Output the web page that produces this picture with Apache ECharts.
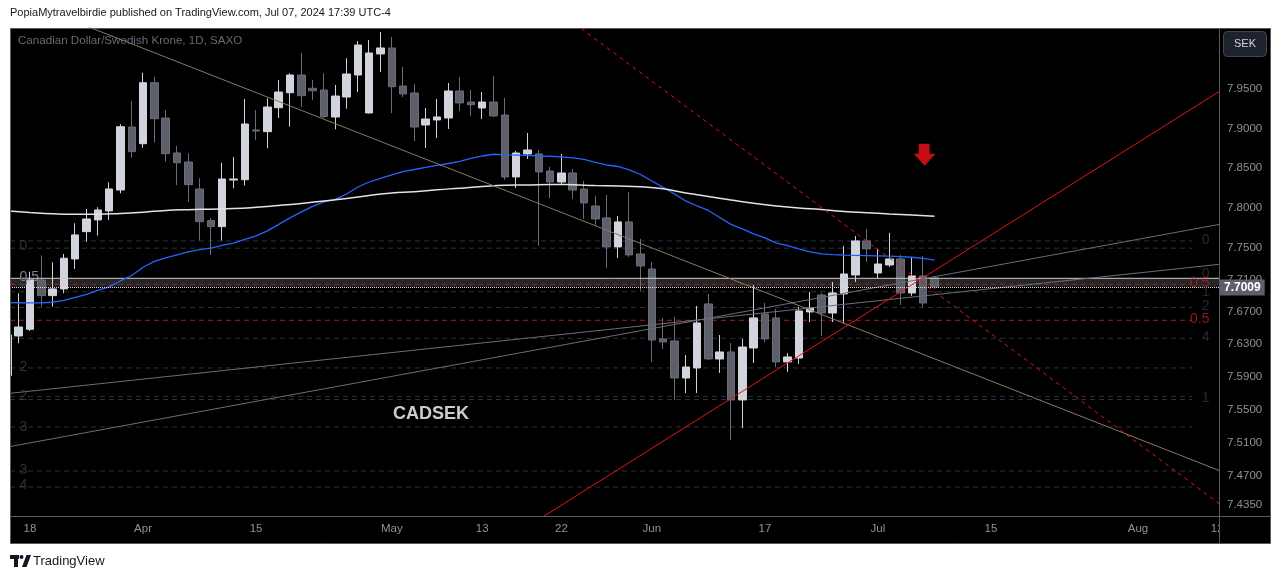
<!DOCTYPE html>
<html><head><meta charset="utf-8">
<script src="https://cdn.jsdelivr.net/npm/echarts/dist/echarts.min.js"></script>
<style>html,body{margin:0;padding:0;background:#fff}#c{width:1281px;height:579px}</style>
</head><body><div id="c"></div>
<script>
// ---- categories (daily bars, 2024) ----
const dates = ['03-14','03-15','03-18','03-19','03-20','03-21','03-22','03-25','03-26','03-27','03-28','03-29',
'04-01','04-02','04-03','04-04','04-05','04-08','04-09','04-10','04-11','04-12','04-15','04-16','04-17','04-18','04-19','04-22','04-23','04-24','04-25','04-26','04-29','04-30',
'05-01','05-02','05-03','05-06','05-07','05-08','05-09','05-10','05-13','05-14','05-15','05-16','05-17','05-20','05-21','05-22','05-23','05-24','05-27','05-28','05-29','05-30','05-31',
'06-03','06-04','06-05','06-06','06-07','06-10','06-11','06-12','06-13','06-14','06-17','06-18','06-19','06-20','06-21','06-24','06-25','06-26','06-27','06-28',
'07-01','07-02','07-03','07-04','07-05','07-08'];
// ---- OHLC ----
const open = [7.5915,7.6402,7.6484,7.7094,7.6900,7.6983,7.7356,7.7697,7.7844,7.7957,
7.8220,7.9018,7.8806,7.9584,7.9133,7.8688,7.8574,7.8233,7.7835,7.7760,
7.8346,7.8350,7.8980,7.8959,7.9264,7.9456,7.9683,7.9513,7.9491,7.9146,
7.9401,7.9683,7.9197,7.9954,8.0031,7.9542,7.9453,7.9044,7.9108,7.9133,
7.9478,7.9337,7.9261,7.9337,7.9171,7.8385,7.8676,7.8676,7.8460,7.8321,
7.8435,7.8233,7.8019,7.7869,7.7506,7.7819,7.7418,7.7231,7.6365,7.6340,
7.5886,7.6009,7.6797,7.6119,7.6205,7.5618,7.6254,7.6673,7.6624,7.6083,
7.6131,7.6698,7.6908,7.6685,7.6921,7.7156,7.7581,7.7181,7.7281,7.7356,
7.6933,7.7144,7.7119];
const close = [7.6414,7.6512,7.7094,7.6900,7.6983,7.7365,7.7656,7.7856,7.7969,7.8233,
7.9022,7.8705,7.9584,7.9124,7.8679,7.8565,7.8287,7.7822,7.7760,7.8359,
7.8359,7.9057,7.8967,7.9273,7.9465,7.9683,7.9418,7.9482,7.9150,7.9414,
7.9696,8.0069,7.9966,8.0031,7.9533,7.9440,7.9018,7.9120,7.9146,7.9478,
7.9325,7.9303,7.9337,7.9159,7.8385,7.8688,7.8726,7.8448,7.8321,7.8435,
7.8220,7.8057,7.7856,7.7506,7.7819,7.7406,7.7268,7.6352,7.6328,7.5886,
7.6021,7.6562,7.6119,7.6205,7.5618,7.6266,7.6624,7.6365,7.6083,7.6144,
7.6710,7.6747,7.6685,7.6933,7.7169,7.7581,7.7481,7.7293,7.7356,7.6933,
7.7144,7.6809,7.7009];
const low = [7.5862,7.6312,7.6463,7.6763,7.6763,7.6929,7.7231,7.7572,7.7647,7.7844,
7.8179,7.8629,7.8755,7.8819,7.8578,7.8283,7.8073,7.7585,7.7406,7.7585,
7.8242,7.8275,7.8853,7.8748,7.9133,7.9022,7.9277,7.9363,7.9129,7.8989,
7.9252,7.9465,7.9190,7.9722,7.9197,7.9401,7.8840,7.8752,7.8879,7.8993,
7.9222,7.9159,7.9120,7.9146,7.8347,7.8246,7.8612,7.7518,7.8120,7.8296,
7.8107,7.7856,7.7781,7.7243,7.7368,7.7381,7.6962,7.6086,7.6242,7.5618,
7.5703,7.5703,7.6107,7.5948,7.5133,7.5278,7.6070,7.6328,7.6021,7.5960,
7.6058,7.6574,7.6402,7.6574,7.6562,7.7069,7.7318,7.7119,7.7256,7.6784,
7.6896,7.6760,7.6983];
const high = [7.6475,7.6929,7.7197,7.7400,7.7315,7.7418,7.7802,7.7982,7.8003,7.8318,
7.9053,7.9350,7.9712,7.9661,7.9235,7.8777,7.8684,7.8368,7.7869,7.8565,
7.8638,7.9376,7.9235,7.9385,7.9619,7.9705,7.9963,7.9619,7.9705,7.9555,
7.9898,8.0121,8.0134,8.0237,8.0173,7.9786,7.9568,7.9261,7.9376,7.9581,
7.9658,7.9491,7.9465,7.9671,7.9389,7.8714,7.8942,7.8726,7.8511,7.8676,
7.8486,7.8334,7.8145,7.8157,7.7894,7.8195,7.7606,7.7318,7.6624,7.6636,
7.6168,7.6772,7.6921,7.6414,7.6316,7.6365,7.7032,7.6809,7.6735,7.6193,
7.6760,7.6946,7.6933,7.7069,7.7518,7.7643,7.7731,7.7481,7.7681,7.7406,
7.7381,7.7393,7.7144];
const lastPrice = 7.7009;
// ---- moving averages ----
const ma50 = [7.6813,7.6812,7.6809,7.6809,7.6818,7.6840,7.6877,7.6915,7.6964,7.7008,
7.7082,7.7150,7.7252,7.7325,7.7368,7.7406,7.7443,7.7472,7.7490,7.7525,
7.7552,7.7600,7.7643,7.7706,7.7788,7.7869,7.7944,7.8013,7.8070,7.8101,
7.8170,7.8258,7.8321,7.8368,7.8410,7.8452,7.8479,7.8505,7.8530,7.8555,
7.8583,7.8619,7.8650,7.8672,7.8663,7.8660,7.8657,7.8650,7.8647,7.8640,
7.8625,7.8606,7.8568,7.8536,7.8517,7.8473,7.8416,7.8334,7.8254,7.8170,
7.8082,7.8019,7.7963,7.7875,7.7788,7.7731,7.7668,7.7618,7.7556,7.7522,
7.7481,7.7443,7.7418,7.7410,7.7403,7.7401,7.7398,7.7395,7.7391,7.7385,
7.7377,7.7362,7.7340];
// read every second bar
const ma200 = [7.7957,7.7938,7.7922,7.7915,7.7915,7.7925,7.7940,7.7963,7.7973,7.7979,
7.7986,7.8003,7.8026,7.8050,7.8082,7.8113,7.8151,7.8183,7.8199,7.8223,
7.8243,7.8264,7.8280,7.8283,7.8291,7.8286,7.8277,7.8271,7.8262,7.8235,
7.8183,7.8139,7.8095,7.8053,7.8019,7.7994,7.7974,7.7950,7.7934,7.7919,
7.7906,7.7890];
// ---- axis ticks ----
const yTicks = [7.95,7.90,7.85,7.80,7.75,7.71,7.67,7.63,7.59,7.55,7.51,7.47,7.435];
const xTickBars = [2,12,22,34,42,49,57,67,77,87,100,107];
const xTickLabels = ['18','Apr','15','May','13','22','Jun','17','Jul','15','Aug','12'];
// ---- drawings: [bar, price] endpoints ----
const tanLine = [[6.42,8.0347],[108,7.4719]];
const redDashLine = [[50.2,8.0343],[108,7.4282]];
const redLine = [[46.22,7.4110],[108,7.9546]];
const grayLine1 = [[-0.654,7.5686],[108,7.7301]];
const grayLine2 = [[-0.654,7.5030],[108,7.7809]];
const fibDim = [7.7581,7.7490,7.6949,7.6753,7.6373,7.6009,7.5661,7.5624,7.5290,7.4757,7.4564];
const fibRed = [7.7041,7.6595];
const bandTop = 7.7115;
const leftLabels = ['0','0.5','0','2','2','3','3','4'];
const leftLabelPrices = [7.7510,7.7131,7.7057,7.6021,7.5667,7.5290,7.4769,7.4588];
const rightLabels = ['0','0','0.5','1','2','0.5','4','1'];
const rightLabelPrices = [7.7587,7.7163,7.7053,7.6949,7.6772,7.6608,7.6389,7.5642];
const arrowPoint = [81.13,7.8665];
const noteText = 'CADSEK';
const notePoint = [37.47,7.5442];

const X_MIN = 0.231, X_MAX = 107.165, FIB_START = 0.231, FIB_END = 104.78;
const LEFT_LABEL_BAR = 1.03, RIGHT_LABEL_BAR = 106.37;
const FONT = 'Liberation Sans';

function seg(pts, color, type, width, z) {
  return {type:'line', data:pts, symbol:'none', silent:true, z:z, clip:true,
    lineStyle:{color:color, type:type, width:width}};
}
const series = [];
series.push({type:'line', data:[[FIB_START,lastPrice],[X_MAX,lastPrice]], symbol:'none', silent:true, z:0.5,
  lineStyle:{opacity:0},
  markArea:{silent:true, itemStyle:{color:'#262626'}, data:[[{yAxis:bandTop},{yAxis:lastPrice}]]}});
fibDim.forEach(v => series.push(seg([[FIB_START,v],[FIB_END,v]], '#2c303b', [5,4], 1, 1)));
fibRed.forEach(v => series.push(seg([[FIB_START,v],[FIB_END,v]], '#a8191c', [5,4], 1, 1)));
series.push(seg([[FIB_START,bandTop],[X_MAX,bandTop]], '#cfcfcf', 'solid', 1, 3));
series.push({type:'candlestick', z:2, clip:true, barWidth:8,
  data: dates.map((d,i)=>[i, open[i], close[i], low[i], high[i]]),
  encode:{x:0, y:[1,2,3,4]},
  itemStyle:{color:'#d1d4dc', color0:'#5d606b', borderColor:'#d1d4dc', borderColor0:'#6a6d78', borderWidth:1},
  markLine:{symbol:'none', silent:true, animation:false,
    lineStyle:{color:'#dddddd', type:'dotted', width:1},
    label:{show:true, position:'end', formatter:lastPrice.toFixed(4), color:'#ffffff', backgroundColor:'#5d606b',
      fontWeight:'bold', fontSize:12, fontFamily:FONT, padding:[2,4,2,4], distance:1},
    data:[{yAxis:lastPrice}]}
});
series.push({type:'line', data: ma50.map((v,i)=>[i,v]), symbol:'none', silent:true, z:4,
  lineStyle:{color:'#2962ff', width:1.3}});
series.push({type:'line', data: ma200.map((v,i)=>[2*i,v]), symbol:'none', smooth:true, silent:true, z:4,
  lineStyle:{color:'#e3e3e3', width:1.5}});
series.push(seg(grayLine1, '#6b6e78', 'solid', 1, 4));
series.push(seg(grayLine2, '#6b6e78', 'solid', 1, 4));
series.push(seg(tanLine, '#8a7a60', 'solid', 1, 4));
series.push(seg(redDashLine, '#e0161d', [4,4], 1, 4));
series.push(seg(redLine, '#e3151b', 'solid', 1, 4));
series.push({type:'scatter', symbolSize:1, silent:true, z:6, itemStyle:{color:'transparent'},
  data: leftLabels.map((t,i)=>({value:[LEFT_LABEL_BAR, leftLabelPrices[i]],
    label:{show:true, formatter:t, position:'right', distance:0, fontSize:14, fontFamily:FONT,
      color: t==='0.5' ? '#9fa2aa' : '#3c3f49'}}))});
series.push({type:'scatter', symbolSize:1, silent:true, z:6, itemStyle:{color:'transparent'},
  data: rightLabels.map((t,i)=>({value:[RIGHT_LABEL_BAR, rightLabelPrices[i]],
    label:{show:true, formatter:t, position:'left', distance:0, fontSize:14, fontFamily:FONT,
      color: t==='0.5' ? '#b71c1f' : '#30343e'}}))});
series.push({type:'scatter', silent:true, z:6,
  symbol:'path://M5,0 L16,0 L16,10 L22,10 L11,22 L0,10 L5,10 Z', symbolSize:[22,22],
  itemStyle:{color:'#f5101a'}, data:[arrowPoint]});
series.push({type:'scatter', symbolSize:1, silent:true, z:6, itemStyle:{color:'transparent'},
  data:[{value:notePoint}],
  label:{show:true, formatter:noteText, position:'inside', color:'#ffffff', fontSize:18, fontWeight:'bold', fontFamily:FONT}});

const option = {
  backgroundColor:'#ffffff', animation:false,
  textStyle:{fontFamily:FONT},
  grid:{left:10, right:62, top:28, bottom:63, containLabel:false},
  xAxis:{type:'value', min:X_MIN, max:X_MAX,
    axisLine:{show:false}, axisTick:{show:false}, splitLine:{show:false},
    axisLabel:{customValues:xTickBars, formatter:(v)=>{const k=xTickBars.indexOf(Math.round(v)); return k<0?'':xTickLabels[k];},
      color:'#8f929b', fontSize:11.5, fontFamily:FONT, margin:7}},
  yAxis:{type:'log', logBase:10, position:'right', min:7.4217, max:8.0289,
    axisLine:{show:false}, axisTick:{show:false}, splitLine:{show:false},
    axisLabel:{customValues:yTicks, formatter:(v)=>Number(v).toFixed(4), color:'#8f929b', fontSize:11.5, fontFamily:FONT, margin:8, align:'left'}},
  graphic:{elements:[
    {type:'rect', z:-10, shape:{x:10.5,y:28.5,width:1260,height:515}, style:{fill:'#000000', stroke:'#5a5a5a', lineWidth:1}},
    {type:'rect', z:20, shape:{x:0,y:27,width:10,height:518}, style:{fill:'#ffffff'}},
    {type:'rect', z:20, shape:{x:1220,y:517,width:50,height:26}, style:{fill:'#000000'}},
    {type:'line', z:21, shape:{x1:10.5,y1:28.5,x2:10.5,y2:543.5}, style:{stroke:'#5a5a5a', lineWidth:1}},
    {type:'line', z:21, shape:{x1:10,y1:516.5,x2:1270,y2:516.5}, style:{stroke:'#5a5a5a', lineWidth:1}},
    {type:'line', z:21, shape:{x1:1219.5,y1:28,x2:1219.5,y2:543}, style:{stroke:'#5a5a5a', lineWidth:1}},
    {type:'rect', z:21, shape:{x:1223.5,y:31.5,width:43,height:25,r:4}, style:{fill:'#1e222d', stroke:'#434651', lineWidth:1}},
    {type:'text', z:22, x:1245, y:44, style:{text:'SEK', fill:'#d1d4dc', font:'11px Liberation Sans', textAlign:'center', textVerticalAlign:'middle', align:'center', verticalAlign:'middle'}},
    {type:'text', z:22, x:10, y:13, style:{text:'PopiaMytravelbirdie published on TradingView.com, Jul 07, 2024 17:39 UTC-4', fill:'#131722', font:'11px Liberation Sans', textVerticalAlign:'middle', verticalAlign:'middle'}},
    {type:'text', z:22, x:18, y:41, style:{text:'Canadian Dollar/Swedish Krone, 1D, SAXO', fill:'#686b76', font:'11.6px Liberation Sans', textVerticalAlign:'middle', verticalAlign:'middle'}},
    {type:'rect', z:22, shape:{x:10,y:555,width:9,height:4}, style:{fill:'#131722'}},
    {type:'rect', z:22, shape:{x:14,y:555,width:4,height:12}, style:{fill:'#131722'}},
    {type:'circle', z:22, shape:{cx:21.5,cy:557,r:2}, style:{fill:'#131722'}},
    {type:'polygon', z:22, shape:{points:[[22,567],[26.5,567],[31,555],[26.5,555]]}, style:{fill:'#131722'}},
    {type:'text', z:22, x:33, y:561, style:{text:'TradingView', fill:'#131722', font:'13px Liberation Sans', textVerticalAlign:'middle', verticalAlign:'middle'}}
  ]},
  series: series
};
const chart = echarts.init(document.getElementById('c'), null, {renderer:'canvas'});
chart.setOption(option);
</script></body></html>
